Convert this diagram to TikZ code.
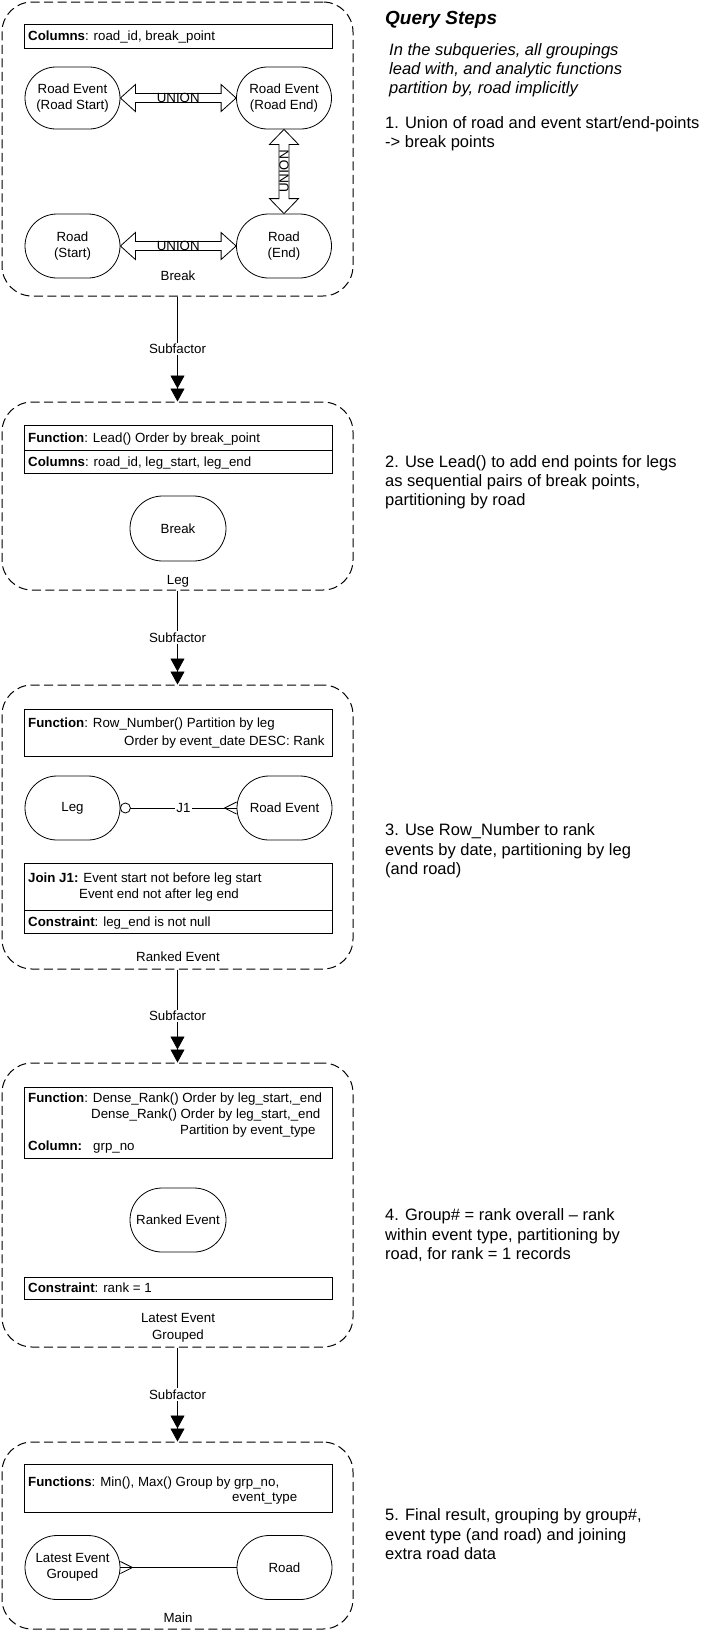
\documentclass[tikz,border=0pt]{standalone}
\usepackage{fontspec}
\setmainfont{Liberation Sans}
\usetikzlibrary{arrows.meta,calc}
\newcommand\fin{\fontsize{13.3}{16}\selectfont}
\newcommand\fright{\fontsize{16.5}{19.5}\selectfont}
\newcommand\hunion[2]{\draw[uarrow] (#1.east) -- ++(15,-13.5) -- ++(0,9) -- ($(#2.west)+(-15,-4.5)$) -- ++(0,-9) -- (#2.west) -- ++(-15,13.5) -- ++(0,-9) -- ($(#1.east)+(15,4.5)$) -- ++(0,9) -- cycle;}
\newcommand\vunion[2]{\draw[uarrow] (#1.south) -- ++(-14.5,15) -- ++(9.5,0) -- ($(#2.north)+(-5,-15)$) -- ++(-9.5,0) -- (#2.north) -- ++(14.5,-15) -- ++(-9.5,0) -- ($(#1.south)+(5,15)$) -- ++(9.5,0) -- cycle;}
\begin{document}
\begin{tikzpicture}[x=1pt,y=-1pt,
  grp/.style={draw, dash pattern=on 9pt off 4.5pt, rounded corners=30pt, line width=1pt, minimum width=351pt, inner sep=0pt},
  ent/.style={draw, rounded corners=31pt, line width=0.8pt, minimum width=95pt, minimum height=62pt, align=center, font=\fin, inner sep=0pt},
  tbl/.style={draw, line width=0.9pt, minimum width=308pt, inner sep=0pt},
  txt/.style={anchor=base west, inner sep=0pt, font=\fin},
  lbl/.style={anchor=base, inner sep=0pt, font=\fin},
  rt/.style={anchor=base west, inner sep=0pt, font=\fright},
  uarrow/.style={draw, line width=0.8pt, fill=white},
  subf/.style={draw, line width=0.8pt, -{Triangle[width=14pt,length=13pt]Triangle[width=14pt,length=13pt]}},
  sublbl/.style={fill=white, font=\fin, inner sep=1.5pt},
  conn/.style={draw, line width=0.8pt}
]
\useasboundingbox (0,0) rectangle (702,1631);
\fill[white] (0,0) rectangle (702,1631);

% ---------- Box 1: Break ----------
\node[grp, minimum height=294pt] (brk) at (177.5,149) {};
\node[tbl, minimum height=24pt] (cols1) at (178,36) {};
\node[txt] (cols1t) at (28,40.5) {\textbf{Columns}: road\_id, break\_point};
\node[ent] (reS) at (72.5,98) {Road Event\\(Road Start)};
\node[ent] (reE) at (284,98) {Road Event\\(Road End)};
\node[ent, minimum height=64pt, rounded corners=32pt] (rdS) at (72.5,246) {Road\\(Start)};
\node[ent, minimum height=64pt, rounded corners=32pt] (rdE) at (284,246) {Road\\(End)};
\hunion{reS}{reE}
\hunion{rdS}{rdE}
\vunion{reE}{rdE}
\node[font=\fin, inner sep=0pt] (u1) at ($(reS.east)!0.5!(reE.west)$) {UNION};
\node[font=\fin, inner sep=0pt] (u2) at ($(rdS.east)!0.5!(rdE.west)$) {UNION};
\node[font=\fin, inner sep=0pt, rotate=90] (u3) at ($(reE.south)!0.5!(rdE.north)$) {UNION};
\node[lbl] (brkl) at (178,280) {Break};

% ---------- Box 2: Leg ----------
\node[grp, minimum height=188pt] (leg) at (177.5,496) {};
\node[tbl, minimum height=25pt] (fn2) at (178,437.5) {};
\node[tbl, minimum height=23pt] (cols2) at (178,461.5) {};
\node[txt] (fn2t) at (28,442) {\textbf{Function}: Lead() Order by break\_point};
\node[txt] (cols2t) at (28,466) {\textbf{Columns}: road\_id, leg\_start, leg\_end};
\node[ent, minimum width=96pt, minimum height=65pt, rounded corners=32.5pt] (brk2) at (178,528.5) {Break};
\node[lbl] (legl) at (178,584.5) {Leg};

% ---------- Box 3: Ranked Event ----------
\node[grp, minimum height=284pt] (rke) at (177.5,827) {};
\node[tbl, minimum height=47pt] (fn3) at (178,732.5) {};
\node[txt] (fn3a) at (28,727.5) {\textbf{Function}: Row\_Number() Partition by leg};
\node[txt] (fn3b) at (124,745.5) {Order by event\_date DESC: Rank};
\node[ent, minimum height=64pt, rounded corners=32pt] (leg3) at (72.5,808) {Leg};
\node[ent, minimum height=64pt, rounded corners=32pt] (re3) at (284.5,808) {Road Event};
\draw[conn] ($(leg3.east)+(5,0)$) circle (5pt);
\draw[conn] ($(leg3.east)+(10,0)$) -- node[fill=white, font=\fin, inner sep=1.5pt] (j1) {J1} (re3.west);
\draw[conn] ($(re3.west)+(-12,0)$) -- ($(re3.west)+(0,-6)$);
\draw[conn] ($(re3.west)+(-12,0)$) -- ($(re3.west)+(0,6)$);
\node[tbl, minimum height=47pt] (join3) at (178,886.5) {};
\node[tbl, minimum height=23pt] (con3) at (178,921.5) {};
\node[txt] (join3a) at (28,882.5) {\textbf{Join J1:} Event start not before leg start};
\node[txt] (join3b) at (79,898) {Event end not after leg end};
\node[txt] (con3t) at (28,926) {\textbf{Constraint}: leg\_end is not null};
\node[lbl] (rkel) at (178,961.5) {Ranked Event};

% ---------- Box 4: Latest Event Grouped ----------
\node[grp, minimum height=284pt] (leg4) at (177.5,1205) {};
\node[tbl, minimum height=71pt] (fn4) at (178,1122.5) {};
\node[txt] (fn4a) at (28,1102.5) {\textbf{Function}: Dense\_Rank() Order by leg\_start,\_end};
\node[txt] (fn4b) at (91,1118.5) {Dense\_Rank() Order by leg\_start,\_end};
\node[txt] (fn4c) at (180,1134.5) {Partition by event\_type};
\node[txt] (fn4d) at (28,1150.5) {\textbf{Column:}};
\node[txt] (fn4e) at (93,1150.5) {grp\_no};
\node[ent, minimum width=96pt, minimum height=64pt, rounded corners=32pt] (rk4) at (178,1220) {Ranked Event};
\node[tbl, minimum height=22pt] (con4) at (178,1288) {};
\node[txt] (con4t) at (28,1292.5) {\textbf{Constraint}: rank = 1};
\node[lbl] (leg4a) at (178,1322.5) {Latest Event};
\node[lbl] (leg4b) at (178,1339.5) {Grouped};

% ---------- Box 5: Main ----------
\node[grp, minimum height=187pt] (mn) at (177.5,1535.5) {};
\node[tbl, minimum height=48pt] (fn5) at (178,1488) {};
\node[txt] (fn5a) at (28,1486.5) {\textbf{Functions}: Min(), Max() Group by grp\_no,};
\node[txt] (fn5b) at (232,1501.5) {event\_type};
\node[ent, minimum height=64pt, rounded corners=32pt] (leg5) at (72.5,1567.5) {Latest Event\\Grouped};
\node[ent, minimum height=64pt, rounded corners=32pt] (rd5) at (284.5,1567.5) {Road};
\draw[conn] ($(leg5.east)+(12,0)$) -- (rd5.west);
\draw[conn] ($(leg5.east)+(12,0)$) -- ($(leg5.east)+(0,-6)$);
\draw[conn] ($(leg5.east)+(12,0)$) -- ($(leg5.east)+(0,6)$);
\draw[conn] ($(leg5.east)+(12,0)$) -- (leg5.east);
\node[lbl] (mnl) at (178,1622.5) {Main};

% ---------- Subfactor connectors ----------
\draw[subf] (brk.south) -- node[sublbl] (sf1) {Subfactor} (leg.north);
\draw[subf] (leg.south) -- node[sublbl] (sf2) {Subfactor} (rke.north);
\draw[subf] (rke.south) -- node[sublbl] (sf3) {Subfactor} (leg4.north);
\draw[subf] (leg4.south) -- node[sublbl] (sf4) {Subfactor} (mn.north);

% ---------- Right column ----------
\node[anchor=base west, inner sep=0pt, font=\fontsize{19}{22}\selectfont\bfseries\itshape] (qs) at (385,24) {Query Steps};
\node[rt, font=\fright\itshape] (i1) at (389,55.5) {In the subqueries, all groupings};
\node[rt, font=\fright\itshape] (i2) at (389,74.5) {lead with, and analytic functions};
\node[rt, font=\fright\itshape] (i3) at (389,93.5) {partition by, road implicitly};
\node[rt] (s1a) at (385,128.5) {1. Union of road and event start/end-points};
\node[rt] (s1b) at (385,147.5) {-> break points};
\node[rt] (s2a) at (385,467.5) {2. Use Lead() to add end points for legs};
\node[rt] (s2b) at (385,486.5) {as sequential pairs of break points,};
\node[rt] (s2c) at (385,505.5) {partitioning by road};
\node[rt] (s3a) at (385,835.5) {3. Use Row\_Number to rank};
\node[rt] (s3b) at (385,855) {events by date, partitioning by leg};
\node[rt] (s3c) at (385,874.5) {(and road)};
\node[rt] (s4a) at (385,1220.5) {4. Group\# = rank overall – rank};
\node[rt] (s4b) at (385,1240) {within event type, partitioning by};
\node[rt] (s4c) at (385,1259.5) {road, for rank = 1 records};
\node[rt] (s5a) at (385,1520.5) {5. Final result, grouping by group\#,};
\node[rt] (s5b) at (385,1540) {event type (and road) and joining};
\node[rt] (s5c) at (385,1559.5) {extra road data};
\end{tikzpicture}
\end{document}
